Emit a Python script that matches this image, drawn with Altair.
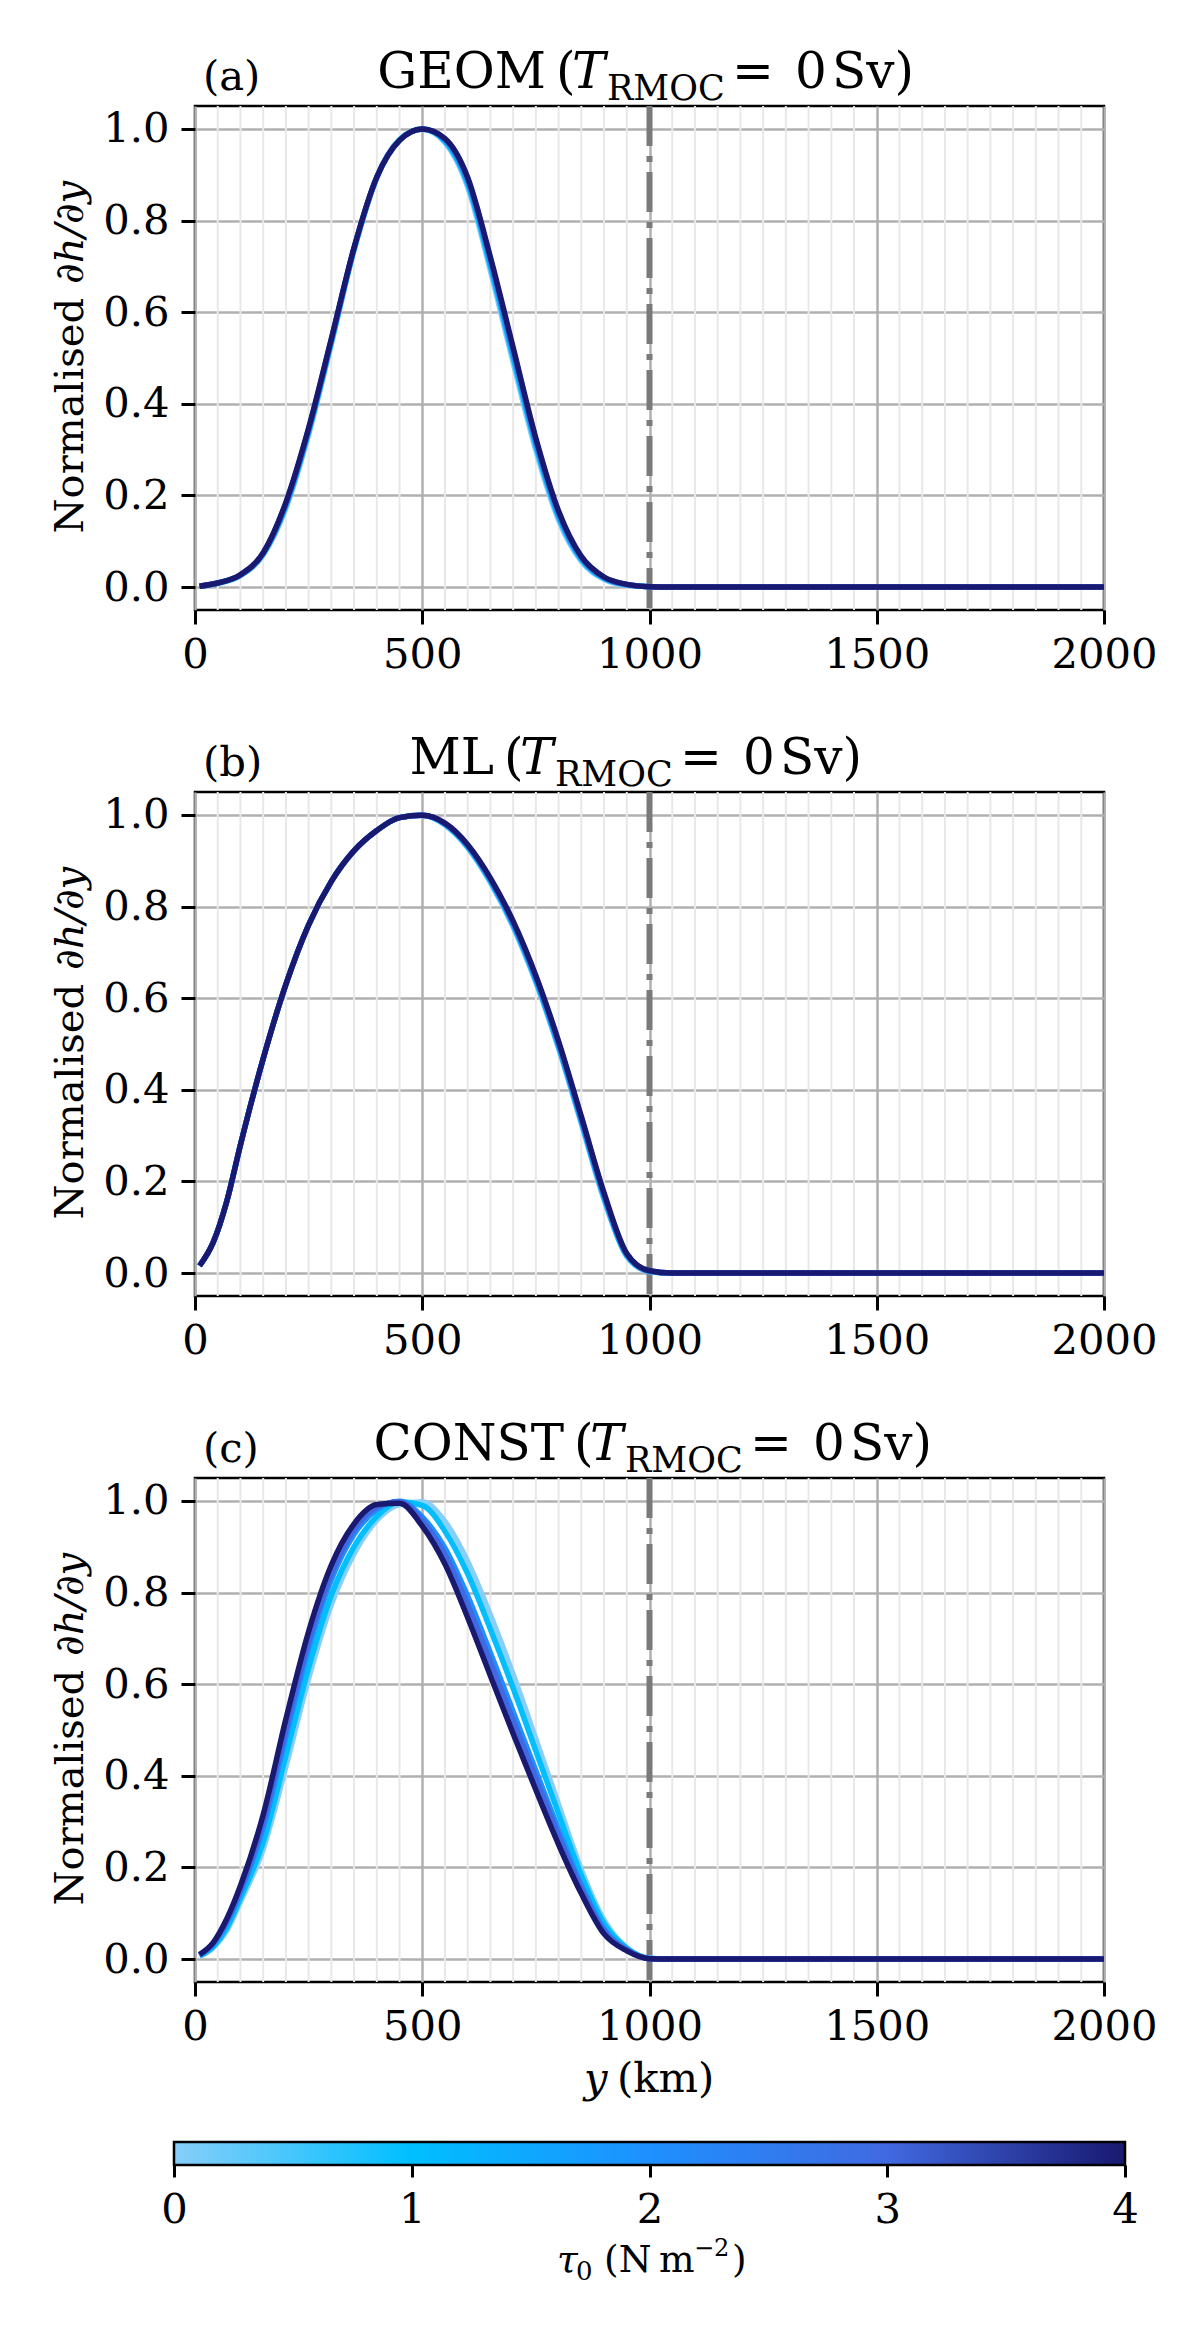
import altair as alt
import pandas as pd

FONT = "DejaVu Serif"

# ---------------- data ----------------
TAU0 = [0, 1, 2, 3, 4]                       # wind stress tau_0 (N m^-2)
TAU_COLOURS = ["#87CEFA", "#00BFFF", "#1E90FF", "#4169E1", "#191970"]

X_TICKS = [0, 500, 1000, 1500, 2000]
Y_TICKS = [0.0, 0.2, 0.4, 0.6, 0.8, 1.0]
CB_TICKS = [0, 1, 2, 3, 4]
Y_BOUNDARY = [1000]                          # dash-dot line (km)

# panel (a) GEOM
Y_KM_A = [10, 50, 100, 150, 200, 250, 300, 350, 400, 450, 500, 550, 600,
          650, 700, 750, 800, 850, 900, 950, 1000, 1050, 2000]
GEOM_T0 = [0.002, 0.008, 0.025, 0.070, 0.172, 0.333, 0.530, 0.735, 0.893, 0.977, 0.999, 0.970,
           0.873, 0.690, 0.490, 0.298, 0.146, 0.056, 0.017, 0.004, 0.001, 0.0, 0.0]
GEOM_T1 = [0.002, 0.008, 0.026, 0.072, 0.177, 0.338, 0.535, 0.737, 0.894, 0.976, 1.000, 0.973,
           0.880, 0.700, 0.501, 0.308, 0.153, 0.060, 0.019, 0.005, 0.001, 0.0, 0.0]
GEOM_T2 = [0.002, 0.009, 0.026, 0.073, 0.180, 0.342, 0.538, 0.739, 0.894, 0.976, 1.000, 0.976,
           0.886, 0.709, 0.510, 0.315, 0.158, 0.063, 0.020, 0.005, 0.001, 0.0, 0.0]
GEOM_T3 = [0.002, 0.009, 0.027, 0.074, 0.183, 0.345, 0.540, 0.740, 0.895, 0.975, 1.000, 0.978,
           0.890, 0.715, 0.517, 0.320, 0.162, 0.065, 0.021, 0.006, 0.001, 0.0, 0.0]
GEOM_T4 = [0.002, 0.009, 0.027, 0.075, 0.185, 0.347, 0.542, 0.741, 0.895, 0.975, 1.000, 0.979,
           0.894, 0.720, 0.523, 0.325, 0.166, 0.067, 0.022, 0.006, 0.001, 0.0, 0.0]

# panels (b) ML and (c) CONST
Y_KM_BC = [10, 40, 70, 100, 150, 200, 250, 300, 350, 400, 450, 500, 550, 600,
           650, 700, 750, 800, 850, 900, 950, 1000, 1050, 2000]
ML_T0 = [0.016, 0.067, 0.157, 0.280, 0.468, 0.630, 0.760, 0.855, 0.922, 0.966, 0.994, 0.999,
         0.978, 0.928, 0.852, 0.755, 0.634, 0.490, 0.326, 0.160, 0.036, 0.003, 0.0, 0.0]
ML_T1 = [0.016, 0.067, 0.157, 0.280, 0.468, 0.630, 0.760, 0.855, 0.922, 0.966, 0.994, 0.999,
         0.979, 0.930, 0.855, 0.759, 0.638, 0.494, 0.330, 0.164, 0.038, 0.004, 0.0, 0.0]
ML_T2 = [0.016, 0.067, 0.157, 0.280, 0.468, 0.630, 0.760, 0.855, 0.922, 0.966, 0.994, 0.999,
         0.980, 0.932, 0.858, 0.762, 0.642, 0.498, 0.334, 0.168, 0.040, 0.004, 0.0, 0.0]
ML_T3 = [0.016, 0.067, 0.157, 0.280, 0.468, 0.630, 0.760, 0.855, 0.922, 0.966, 0.994, 0.999,
         0.981, 0.934, 0.860, 0.765, 0.646, 0.502, 0.338, 0.171, 0.041, 0.005, 0.0, 0.0]
ML_T4 = [0.016, 0.067, 0.157, 0.280, 0.468, 0.630, 0.760, 0.855, 0.922, 0.966, 0.994, 0.999,
         0.982, 0.935, 0.862, 0.768, 0.649, 0.506, 0.342, 0.175, 0.043, 0.005, 0.0, 0.0]

CONST_T0 = [0.006, 0.025, 0.062, 0.125, 0.240, 0.420, 0.613, 0.774, 0.885, 0.958, 0.992, 0.998,
            0.955, 0.868, 0.751, 0.621, 0.480, 0.337, 0.195, 0.085, 0.025, 0.002, 0.0, 0.0]
CONST_T1 = [0.007, 0.027, 0.068, 0.133, 0.255, 0.444, 0.636, 0.794, 0.900, 0.966, 0.998, 0.990,
            0.934, 0.841, 0.720, 0.591, 0.454, 0.317, 0.183, 0.078, 0.024, 0.002, 0.0, 0.0]
CONST_T2 = [0.009, 0.032, 0.079, 0.145, 0.285, 0.485, 0.677, 0.828, 0.927, 0.981, 0.999, 0.965,
            0.897, 0.792, 0.668, 0.540, 0.411, 0.283, 0.162, 0.066, 0.021, 0.001, 0.0, 0.0]
CONST_T3 = [0.009, 0.034, 0.082, 0.150, 0.298, 0.500, 0.692, 0.840, 0.937, 0.986, 0.998, 0.957,
            0.883, 0.774, 0.649, 0.521, 0.395, 0.270, 0.155, 0.062, 0.020, 0.001, 0.0, 0.0]
CONST_T4 = [0.010, 0.036, 0.088, 0.160, 0.315, 0.524, 0.715, 0.860, 0.950, 0.992, 0.995, 0.945,
            0.862, 0.745, 0.618, 0.492, 0.369, 0.250, 0.143, 0.055, 0.018, 0.001, 0.0, 0.0]

PANELS = [
    ("(a)", "GEOM", Y_KM_A, [GEOM_T0, GEOM_T1, GEOM_T2, GEOM_T3, GEOM_T4]),
    ("(b)", "ML", Y_KM_BC, [ML_T0, ML_T1, ML_T2, ML_T3, ML_T4]),
    ("(c)", "CONST", Y_KM_BC, [CONST_T0, CONST_T1, CONST_T2, CONST_T3, CONST_T4]),
]
MINOR_X = [v for v in range(50, 2000, 50) if v % 500 != 0]

# ---------------- layout ----------------
W, H = 909, 504
FS = 41.7                                       # tick / label font size
TITLE_REST_X = {"GEOM": 365, "ML": 313, "CONST": 383}   # left of "(" in the title

xscale = alt.Scale(domain=[0, 2000], nice=False, zero=False)
yscale = alt.Scale(domain=[-0.05, 1.05], nice=False, zero=False)
cscale = alt.Scale(domain=TAU0, range=TAU_COLOURS, interpolate="rgb")
xaxis = alt.Axis(values=X_TICKS, format="d", title=None, grid=True, labelPadding=10,
                 labelFlush=False, labelOverlap=False)
yaxis = alt.Axis(values=Y_TICKS, format=".1f", title=None, grid=True, labelPadding=12,
                 labelFlush=False, labelOverlap=False)


def txt(s, x, y, size, italic=False, align="left", angle=0):
    mk = dict(font=FONT, fontSize=size, align=align, baseline="alphabetic", color="black")
    if italic:
        mk["fontStyle"] = "italic"
    if angle:
        mk["angle"] = angle
    return alt.Chart(pd.DataFrame({"t": [s]})).mark_text(**mk).encode(
        text="t:N", x=alt.value(x), y=alt.value(y))


def panel(label, name, ykm, curves, last):
    layers = []
    layers.append(
        alt.Chart(pd.DataFrame({"km": MINOR_X})).mark_rule(color="#e8e8e8", strokeWidth=2)
        .encode(x=alt.X("km:Q", scale=xscale, axis=xaxis))
    )
    layers.append(
        alt.Chart(pd.DataFrame({"km": Y_BOUNDARY}))
        .mark_rule(color="#7a7a7a", strokeWidth=6, strokeDash=[40, 10, 6, 10])
        .encode(x=alt.X("km:Q", scale=xscale, axis=xaxis))
    )
    for tau, vals in zip(TAU0, curves):
        df = pd.DataFrame({"km": ykm, "v": vals, "tau": tau})
        layers.append(
            alt.Chart(df).mark_line(strokeWidth=5.5, interpolate="monotone")
            .encode(
                x=alt.X("km:Q", scale=xscale, axis=xaxis),
                y=alt.Y("v:Q", scale=yscale, axis=yaxis),
                color=alt.Color("tau:Q", scale=cscale, legend=None),
            )
        )
    xr = TITLE_REST_X[name]
    layers += [
        txt(name, xr - 14, -18, 50, align="right"),
        txt("(", xr - 4, -18, 50),
        txt("T", xr + 12, -18, 50, italic=True),
        txt("RMOC", xr + 47, -6.5, 35),
        txt("=", xr + 172, -18, 50),
        txt("0", xr + 235, -18, 50),
        txt("Sv)", xr + 272, -18, 50),
        txt(label, 8, -16, FS),
        txt("Normalised", -112, 192, 40, align="right", angle=270),
        txt("\u2202h/\u2202y", -112, 178, 40, italic=True, angle=270),
    ]
    if last:
        layers += [
            txt("y", 389, 614, FS, italic=True),
            txt("(km)", 422, 614, FS),
        ]
    return alt.layer(*layers).properties(
        width=W, height=H, view=alt.ViewBackground(stroke="black", strokeWidth=2.5))


charts = [panel(l, n, y, c, i == 2) for i, (l, n, y, c) in enumerate(PANELS)]

# ---------------- colour bar ----------------
grad = alt.LinearGradient(
    gradient="linear", x1=0, x2=1, y1=0, y2=0,
    stops=[alt.GradientStop(offset=i / 4, color=c) for i, c in enumerate(TAU_COLOURS)],
)
cb_df = pd.DataFrame({"lo": [min(TAU0)], "hi": [max(TAU0)]})
cb_scale = alt.Scale(domain=[min(TAU0), max(TAU0)], nice=False, zero=False)
cbar = alt.Chart(cb_df).mark_rect(fill=grad, stroke="black", strokeWidth=2.5).encode(
    x=alt.X("lo:Q", scale=cb_scale,
            axis=alt.Axis(values=CB_TICKS, format="d", title=None, grid=False, tickSize=12,
                          labelPadding=12, labelFlush=False, labelOverlap=False)),
    x2="hi:Q",
    y=alt.value(-22), y2=alt.value(1),
)
colourbar = alt.layer(
    cbar,
    txt("\u03c4", 383, 108, 37.5, italic=True),
    txt("0", 402, 116, 26),
    txt("(N\u2009m", 430, 108, 37.5),
    txt("\u22122", 520, 92, 24),
    txt(")", 558, 108, 37.5),
).properties(width=951, height=1, view=alt.ViewBackground(stroke="transparent", strokeWidth=0))

chart = alt.vconcat(*charts, colourbar, spacing=182, center=True, bounds="flush").properties(
    padding={"left": 41, "top": 38, "right": 5, "bottom": 5}, background="white"
).configure_axis(
    labelFont=FONT, labelFontSize=FS, labelColor="black", tickColor="black",
    tickWidth=3, tickSize=14, domain=False, gridColor="#b0b0b0", gridWidth=2.5,
)

chart.save("out.html", embed_options={"renderer": "svg", "actions": False})
